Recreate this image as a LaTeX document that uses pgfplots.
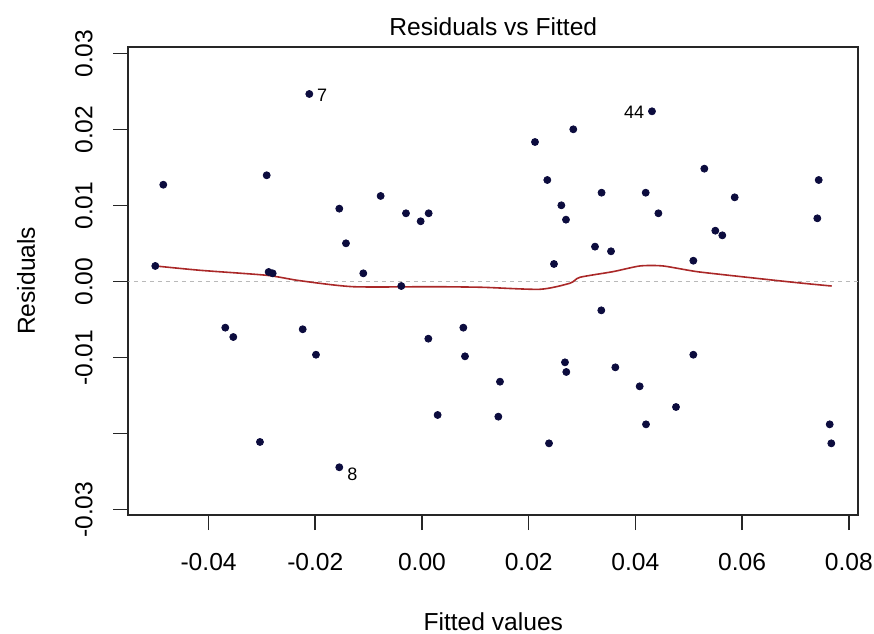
\documentclass[border=0pt]{standalone}
\usepackage{pgfplots}
\pgfplotsset{compat=1.18}
\usepackage{fontspec}
\setmainfont{Liberation Sans}
\definecolor{ptcol}{RGB}{12,12,62}
\definecolor{lowcol}{RGB}{170,40,40}
\begin{document}
\begin{tikzpicture}
\useasboundingbox (-64.15pt,-59pt) rectangle (372.85pt,257.5pt);
\begin{axis}[
  scale only axis,
  width=365pt, height=234.15pt,
  at={(0,0)}, anchor=south west,
  xmin=-0.05505, xmax=0.08178,
  ymin=-0.0307, ymax=0.03092,
  scaled ticks=false,
  xtick={-0.04,-0.02,0,0.02,0.04,0.06,0.08},
  xticklabels={-0.04,-0.02,0.00,0.02,0.04,0.06,0.08},
  ytick={-0.03,-0.02,-0.01,0,0.01,0.02,0.03},
  yticklabels={-0.03,,-0.01,0.00,0.01,0.02,0.03},
  xtick pos=bottom, ytick pos=left,
  tick align=outside,
  major tick length=7.5pt,
  tick style={line width=0.8pt, black!85},
  axis line style={line width=0.9pt, black!85},
  font=\fontsize{12.3}{14}\selectfont,
  xticklabel style={anchor=base, inner sep=0pt},
  xticklabel shift=20pt,
  yticklabel style={rotate=90, anchor=base, inner sep=0pt},
  yticklabel shift=10.5pt,
  title={Residuals vs Fitted},
  every axis title/.style={at={(axis description cs:0.5,1)}, anchor=base, yshift=5.85pt, inner sep=0pt},
  xlabel={Fitted values},
  every axis x label/.style={at={(axis description cs:0.5,-0.2456)}, anchor=base, inner sep=0pt},
  ylabel={Residuals},
  every axis y label/.style={at={(axis description cs:-0.1278,0.5)}, rotate=90, anchor=base, inner sep=0pt},
  clip=true,
]
\addplot[gray!55, line width=0.5pt, dash pattern=on 2pt off 2pt] coordinates {(-0.06,0) (0.09,0)};
\addplot[lowcol, line width=0.8pt, smooth, tension=0.4] coordinates {
(-0.04999,0.00207) (-0.04161,0.00150) (-0.02911,0.00084) (-0.02287,0.00013)
(-0.01288,-0.00066) (0.00206,-0.00066) (0.01143,-0.00074) (0.02212,-0.00100)
(0.02774,-0.00020) (0.02962,0.00058) (0.03580,0.00132) (0.04086,0.00207)
(0.04517,0.00207) (0.05155,0.00132) (0.06092,0.00058) (0.07029,-0.00013)
(0.07679,-0.00057)};
\addplot[only marks, mark=*, mark size=1.75pt, mark options={fill=ptcol, draw=ptcol}] table {
x y
-0.02112 0.02470
-0.04849 0.01276
-0.02911 0.01400
-0.01550 0.00961
-0.00775 0.01128
-0.00300 0.00900
-0.00025 0.00795
0.00125 0.00900
-0.01425 0.00505
-0.04999 0.00207
-0.02874 0.00128
-0.02799 0.00110
-0.01100 0.00110
-0.00388 -0.00057
0.04311 0.02242
0.02836 0.02005
0.02118 0.01838
0.05292 0.01487
0.02349 0.01338
0.07436 0.01338
0.03366 0.01171
0.04193 0.01171
0.05861 0.01110
0.02612 0.01005
0.04431 0.00900
0.02699 0.00816
0.07410 0.00834
0.05498 0.00671
0.05629 0.00610
0.03243 0.00461
0.03543 0.00400
0.05086 0.00276
0.02474 0.00233
-0.03687 -0.00605
-0.03537 -0.00728
-0.02236 -0.00626
-0.01987 -0.00961
-0.03037 -0.02109
-0.01550 -0.02442
0.00119 -0.00750
0.00775 -0.00605
0.00806 -0.00982
0.00293 -0.01754
0.01462 -0.01316
0.01431 -0.01776
0.03361 -0.00377
0.02680 -0.01061
0.02705 -0.01188
0.03624 -0.01127
0.05086 -0.00961
0.04080 -0.01377
0.04761 -0.01649
0.04199 -0.01877
0.02381 -0.02127
0.07642 -0.01877
0.07672 -0.02127
};
\node[font=\fontsize{9}{9}\selectfont, inner sep=0pt] at (axis cs:-0.01874,0.02457) {7};
\node[font=\fontsize{9}{9}\selectfont, inner sep=0pt] at (axis cs:-0.01303,-0.02530) {8};
\node[font=\fontsize{9}{9}\selectfont, inner sep=0pt] at (axis cs:0.03974,0.02233) {44};
\end{axis}
\end{tikzpicture}
\end{document}
